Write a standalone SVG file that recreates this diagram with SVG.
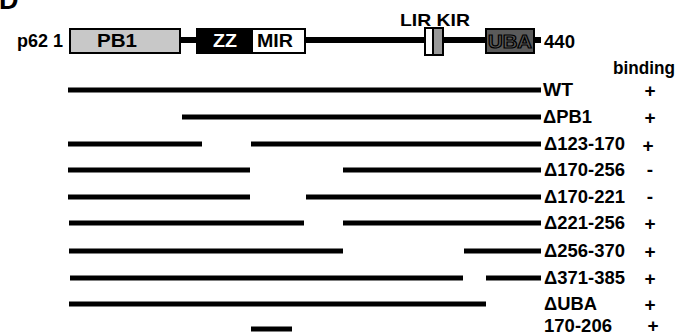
<svg xmlns="http://www.w3.org/2000/svg" width="686" height="335" viewBox="0 0 686 335">
<style>
text{font-family:"Liberation Sans",Arial,sans-serif;font-weight:bold;fill:#000}
.lbl{font-size:18.5px}
.bind{font-size:19px;text-anchor:middle}
.bar{stroke:#000;stroke-width:5;fill:none}
.bb{stroke:#000;stroke-width:6;fill:none}
.dom{stroke:#000;stroke-width:2}
</style>
<rect width="686" height="335" fill="#fff"/>
<text x="-1" y="9" style="font-size:27px">D</text>

<g id="p62">
  <text x="17" y="47" class="lbl" textLength="46" lengthAdjust="spacingAndGlyphs">p62 1</text>
  <g id="backbone">
    <line class="bb" x1="180" y1="40" x2="198" y2="40"/>
    <line class="bb" x1="304" y1="40" x2="426" y2="40"/>
    <line class="bb" x1="442" y1="40" x2="487" y2="40"/>
    <line class="bb" x1="533" y1="40" x2="541" y2="40"/>
  </g>
  <g id="PB1"><rect class="dom" x="70" y="29" width="110" height="24" fill="#c8c8c8"/>
    <text x="97" y="47" style="font-size:17.5px" textLength="40" lengthAdjust="spacingAndGlyphs">PB1</text></g>
  <g id="ZZ"><rect class="dom" x="197" y="29" width="55" height="24" fill="#000"/>
    <text x="213" y="47" style="font-size:17.5px;fill:#fff" textLength="24" lengthAdjust="spacingAndGlyphs">ZZ</text></g>
  <g id="MIR"><rect class="dom" x="252" y="29" width="53" height="24" fill="#fff"/>
    <text x="257" y="47" style="font-size:17.5px" textLength="36" lengthAdjust="spacingAndGlyphs">MIR</text></g>
  <g id="LIR"><rect class="dom" x="425" y="28" width="8" height="27" fill="#fff"/></g>
  <g id="KIR"><rect class="dom" x="433" y="28" width="10" height="27" fill="#999"/></g>
  <text x="400" y="26" style="font-size:17px" textLength="70" lengthAdjust="spacingAndGlyphs">LIR KIR</text>
  <g id="UBA"><rect class="dom" x="486" y="29" width="48" height="24" fill="#5a5a5a"/>
    <text x="488" y="48" style="font-size:19px;fill:#5a5a5a;stroke:#000;stroke-width:1.2" textLength="44" lengthAdjust="spacingAndGlyphs">UBA</text></g>
  <text x="544" y="48" class="lbl" textLength="31" lengthAdjust="spacingAndGlyphs">440</text>
</g>

<text x="613" y="74" class="lbl" textLength="62" lengthAdjust="spacingAndGlyphs">binding</text>

<g id="constructs">
  <g id="WT"><line class="bar" x1="68" y1="90" x2="541" y2="90"/>
    <text x="543" y="96" class="lbl" textLength="30" lengthAdjust="spacingAndGlyphs">WT</text>
    <text x="650" y="97" class="bind">+</text></g>
  <g id="dPB1"><line class="bar" x1="182" y1="117" x2="541" y2="117"/>
    <text x="543" y="123" class="lbl" textLength="49" lengthAdjust="spacingAndGlyphs">ΔPB1</text>
    <text x="650" y="124" class="bind">+</text></g>
  <g id="d123-170"><line class="bar" x1="68" y1="144" x2="202" y2="144"/><line class="bar" x1="251" y1="144" x2="541" y2="144"/>
    <text x="544" y="150" class="lbl" textLength="81" lengthAdjust="spacingAndGlyphs">Δ123-170</text>
    <text x="648" y="152" class="bind">+</text></g>
  <g id="d170-256"><line class="bar" x1="68" y1="170" x2="250" y2="170"/><line class="bar" x1="343" y1="170" x2="541" y2="170"/>
    <text x="544" y="176" class="lbl" textLength="81" lengthAdjust="spacingAndGlyphs">Δ170-256</text>
    <text x="650" y="176" class="bind">-</text></g>
  <g id="d170-221"><line class="bar" x1="68" y1="197" x2="250" y2="197"/><line class="bar" x1="306" y1="197" x2="541" y2="197"/>
    <text x="544" y="203" class="lbl" textLength="81" lengthAdjust="spacingAndGlyphs">Δ170-221</text>
    <text x="650" y="203" class="bind">-</text></g>
  <g id="d221-256"><line class="bar" x1="69" y1="223" x2="304" y2="223"/><line class="bar" x1="343" y1="223" x2="541" y2="223"/>
    <text x="544" y="229" class="lbl" textLength="81" lengthAdjust="spacingAndGlyphs">Δ221-256</text>
    <text x="650" y="230" class="bind">+</text></g>
  <g id="d256-370"><line class="bar" x1="69" y1="251" x2="343" y2="251"/><line class="bar" x1="464" y1="251" x2="541" y2="251"/>
    <text x="544" y="257" class="lbl" textLength="81" lengthAdjust="spacingAndGlyphs">Δ256-370</text>
    <text x="650" y="258" class="bind">+</text></g>
  <g id="d371-385"><line class="bar" x1="70" y1="278" x2="463" y2="278"/><line class="bar" x1="486" y1="278" x2="541" y2="278"/>
    <text x="544" y="284" class="lbl" textLength="81" lengthAdjust="spacingAndGlyphs">Δ371-385</text>
    <text x="650" y="285" class="bind">+</text></g>
  <g id="dUBA"><line class="bar" x1="69" y1="304" x2="486" y2="304"/>
    <text x="544" y="310" class="lbl" textLength="53" lengthAdjust="spacingAndGlyphs">ΔUBA</text>
    <text x="650" y="311" class="bind">+</text></g>
  <g id="f170-206"><line class="bar" x1="251" y1="329" x2="292" y2="329"/>
    <text x="544" y="332" class="lbl" textLength="68" lengthAdjust="spacingAndGlyphs">170-206</text>
    <text x="653" y="332" class="bind">+</text></g>
</g>
</svg>
